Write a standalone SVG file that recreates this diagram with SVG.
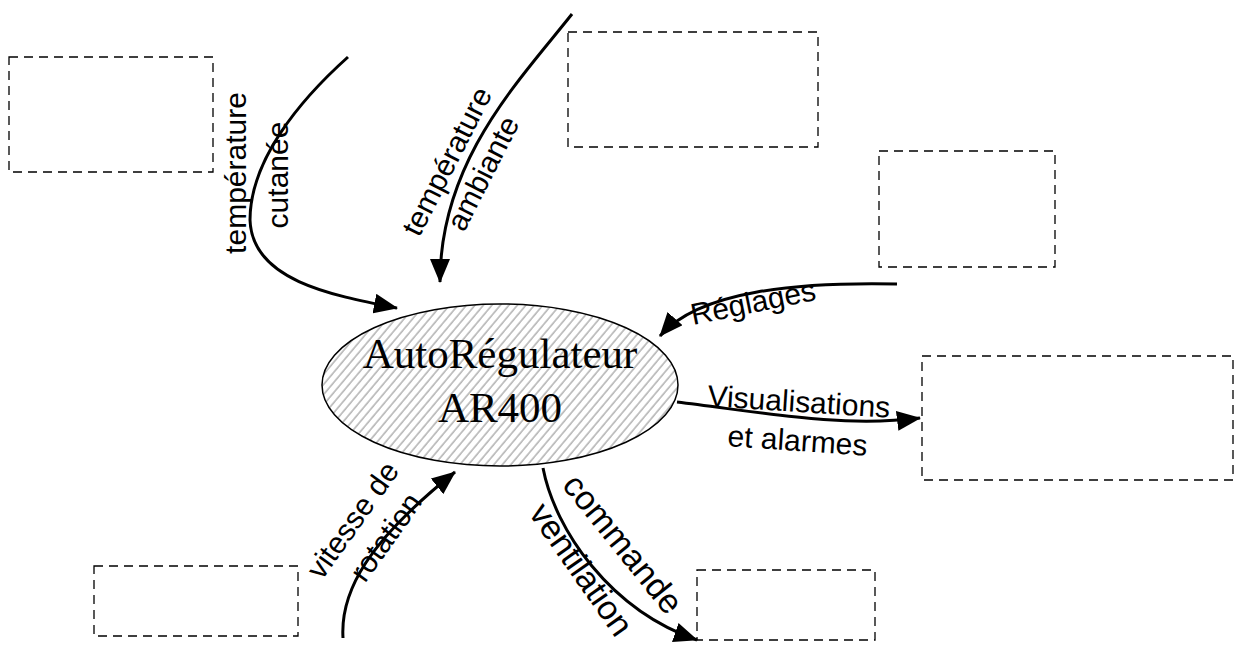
<svg xmlns="http://www.w3.org/2000/svg" width="1235" height="645" viewBox="0 0 1235 645">
<style>
.box{fill:none;stroke:#000;stroke-width:1.3;stroke-dasharray:9 6}
.conn{fill:none;stroke:#000;stroke-width:3;marker-end:url(#arr)}
.lbl{font-family:"Liberation Sans",Arial,sans-serif;font-size:30px;fill:#000}
.big{font-size:34px}
.title{font-family:"Liberation Serif","Times New Roman",serif;font-size:43px;fill:#000;text-anchor:middle}
</style>
<defs>
<marker id="arr" markerUnits="userSpaceOnUse" markerWidth="24" markerHeight="20" refX="23" refY="10" orient="auto">
<path d="M0,0 L24,10 L0,20 z" fill="#000"/>
</marker>
<pattern id="hatch" width="6.5" height="10" patternUnits="userSpaceOnUse" patternTransform="rotate(40)">
<line x1="1" y1="0" x2="1" y2="10" stroke="#333" stroke-width="0.6"/>
</pattern>
</defs>
<rect width="1235" height="645" fill="#fff"/>
<g id="box-tl"><rect class="box" x="9" y="57" width="204" height="115"/></g>
<g id="box-top"><rect class="box" x="568" y="32" width="250" height="115"/></g>
<g id="box-r1"><rect class="box" x="879" y="151" width="176" height="116"/></g>
<g id="box-r2"><rect class="box" x="922" y="356" width="311" height="124"/></g>
<g id="box-bl"><rect class="box" x="94" y="566" width="204" height="70"/></g>
<g id="box-br"><rect class="box" x="697" y="570" width="178" height="70"/></g>
<g id="center">
<ellipse cx="500" cy="385" rx="178" ry="81" fill="#fff" stroke="none"/>
<ellipse cx="500" cy="385" rx="178" ry="81" fill="url(#hatch)" stroke="#000" stroke-width="1.5"/>
<text class="title" x="500" y="368">AutoRégulateur</text>
<text class="title" x="500" y="422">AR400</text>
</g>
<g id="connectors">
<path class="conn" d="M348,57 C300,100 250,160 250,220 C252,280 330,295 397,308"/>
<path class="conn" d="M572,14 C520,80 440,160 440,282"/>
<path class="conn" d="M897,284 C800,282 700,290 660,336"/>
<path class="conn" d="M677,402 C760,412 840,428 920,418"/>
<path class="conn" d="M343,638 C340,590 370,540 455,472"/>
<path class="conn" d="M543,468 C555,530 610,610 697,640"/>
</g>
<g id="labels">
<text class="lbl" text-anchor="middle" transform="translate(246,173) rotate(-90)">température</text>
<text class="lbl" text-anchor="middle" transform="translate(288,175) rotate(-90)">cutanée</text>
<text class="lbl" text-anchor="middle" transform="translate(456,166) rotate(-63)">température</text>
<text class="lbl" text-anchor="middle" transform="translate(492,178) rotate(-63)">ambiante</text>
<text class="lbl" transform="translate(693,325) rotate(-11.5)">Réglages</text>
<text class="lbl" transform="translate(707,406) rotate(3.7)">Visualisations</text>
<text class="lbl" transform="translate(727,446) rotate(4)">et alarmes</text>
<text class="lbl" text-anchor="middle" transform="translate(361,526) rotate(-54.5)">vitesse de</text>
<text class="lbl" text-anchor="middle" transform="translate(394,543) rotate(-54.5)">rotation</text>
<text class="lbl big" text-anchor="middle" transform="translate(614,551) rotate(51)">commande</text>
<text class="lbl big" text-anchor="middle" transform="translate(572,576) rotate(55)">ventilation</text>
</g>
</svg>
